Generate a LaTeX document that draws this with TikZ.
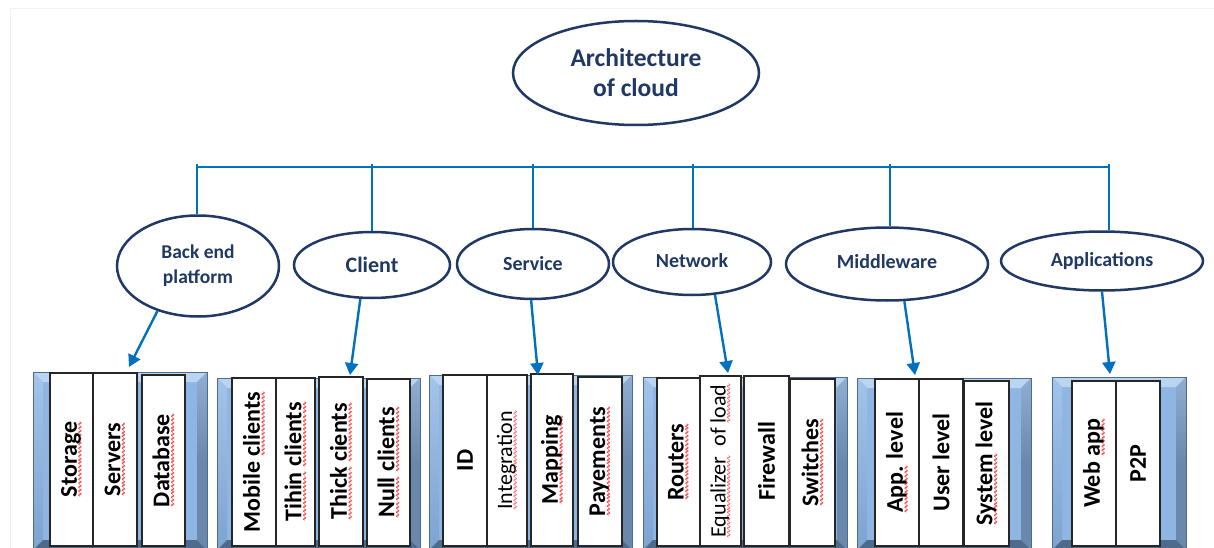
\documentclass[tikz,border=0pt]{standalone}
\usepackage{fontspec}
\setmainfont{Carlito}
\newfontfamily\wvfont{DejaVu Sans}
\usetikzlibrary{shapes.geometric,arrows.meta}
\definecolor{navy}{HTML}{1F3864}
\definecolor{lnblue}{HTML}{0070C0}
\definecolor{bvc}{HTML}{8FB5E3}
\definecolor{bvt}{HTML}{BAD5F2}
\definecolor{bvlt}{HTML}{A3C4EA}
\definecolor{bvlb}{HTML}{7DA3D0}
\definecolor{bvrt}{HTML}{8FAED2}
\definecolor{bvr}{HTML}{6A88AC}
\definecolor{bvb}{HTML}{4E6B8C}
\definecolor{bvo}{HTML}{4F6C8E}
\newcommand\wv[1]{\setbox0\hbox{#1}\rlap{\lower5.2pt\hbox to \wd0{\xleaders\hbox{\kern-0.6pt\textcolor{red}{\wvfont\fontsize{6}{6}\selectfont ∿}\kern-0.6pt}\hfill}}#1}
\newcommand\fsz[2]{\fontsize{#1}{#2}\selectfont}
\newcommand\bevframe[3]{%
  \fill[bvc] (#1,#2) rectangle (#3,550);
  \fill[bvt] (#1,#2) -- (#3,#2) -- (#3-10,#2+10) -- (#1+10,#2+10) -- cycle;
  \shade[top color=bvlt,bottom color=bvlb] (#1,#2) -- (#1+10,#2+10) -- (#1+10,540) -- (#1,550) -- cycle;
  \shade[top color=bvrt,bottom color=bvr,middle color=bvr] (#3,#2) -- (#3-10,#2+10) -- (#3-10,540) -- (#3,550) -- cycle;
  \fill[bvb] (#1,550) -- (#1+10,540) -- (#3-10,540) -- (#3,550) -- cycle;
  \draw[bvo,line width=1pt] (#1,550) -- (#1,#2) -- (#3,#2) -- (#3,550);
}
\newcommand\cell[5]{%
  \pgfmathsetmacro\cellX{(#2+#3)/2}%
  \pgfmathsetmacro\cellY{(#4+546)/2}%
  \pgfmathsetmacro\cellH{546-#4}%
  \pgfmathsetmacro\cellW{#3-#2}%
  \node[cellbox,minimum width=\cellH pt,minimum height=\cellW pt] (#1) at (\cellX,\cellY) {#5};
}
\begin{document}
\begin{tikzpicture}[x=1pt,y=-1pt,
  elli/.style={ellipse,draw=navy,line width=2.5pt,fill=white,inner sep=0pt,align=center,text=navy},
  subfont/.style={font=\bfseries\fsz{20}{25}},
  bus/.style={draw=lnblue,line width=2.4pt},
  arr/.style={draw=lnblue,line width=2.4pt,-{Triangle[length=12pt,width=13pt]}},
  cellbox/.style={draw=black!85,fill=white,line width=1.3pt,rotate=90,inner sep=0pt,font=\bfseries\fsz{24}{27}}]
\useasboundingbox (0,0) rectangle (1214,548);
\clip (0,0) rectangle (1214,548);
\fill[white] (0,0) rectangle (1214,548);
\draw[black!5,line width=1pt] (10,548) -- (10,9) -- (1214,9);

% title
\node[elli,minimum width=246pt,minimum height=104pt,font=\bfseries\fsz{25.5}{30}] (arch) at (636,73) {Architecture\\of cloud};

% categories
\node[elli,minimum width=162pt,minimum height=101pt,font=\bfseries\fsz{19.5}{25}] (be) at (198,266) {Back end\\platform};
\node[elli,minimum width=156pt,minimum height=66pt,font=\bfseries\fsz{22}{26}] (cl) at (372,265) {Client};
\node[elli,subfont,minimum width=152pt,minimum height=70pt] (sv) at (533,264) {Service};
\node[elli,subfont,minimum width=158pt,minimum height=66pt] (nw) at (692,262) {\raisebox{3pt}{Network}};
\node[elli,subfont,minimum width=202pt,minimum height=73pt] (mw) at (887,264) {\raisebox{5pt}{Middleware}};
\node[elli,subfont,minimum width=202pt,minimum height=59pt] (ap) at (1102,261) {Applications};

% bus
\coordinate (b1) at (197,167);
\coordinate (b2) at (372,167);
\coordinate (b3) at (533,167);
\coordinate (b4) at (693,167);
\coordinate (b5) at (890,167);
\coordinate (b6) at (1109,167);
\draw[bus] (b1) -- (b6);
\foreach \b/\e in {b1/be,b2/cl,b3/sv,b4/nw,b5/mw,b6/ap}
  \draw[bus] ([yshift=3pt]\b) -- (\b |- \e.north);

% frames
\bevframe{33}{372}{207}
\bevframe{217}{378}{420}
\bevframe{429}{375}{632}
\bevframe{643}{377}{847}
\bevframe{857}{378}{1031}
\bevframe{1052}{377}{1186}

% cells
\cell{c11}{50}{93}{373}{\wv{Storage}}
\cell{c12}{93}{137}{373}{\wv{Servers}}
\cell{c13}{142}{185}{375}{\wv{Database}}

\cell{c21}{232}{276}{378}{Mobile \wv{clients}}
\cell{c22}{276}{315}{378}{\wv{Tihin} \wv{clients}}
\cell{c23}{319}{363}{377}{\wv{Thick} \wv{cients}}
\cell{c24}{367}{410}{379}{\wv{Null} \wv{clients}}

\cell{c31}{443}{487}{375}{ID}
\cell{c32}{487}{527}{375}{\mdseries\fsz{22}{26}\wv{Integration}}
\cell{c33}{531}{573}{374}{\wv{Mapping}}
\cell{c34}{578}{622}{377}{\wv{Payements}}

\cell{c41}{657}{700}{378}{\wv{Routers}}
\cell{c42}{700}{741}{376}{\mdseries\fsz{22}{26}\wv{Equalizer}\ \ of \wv{load}}
\cell{c43}{744}{789}{376}{Firewall}
\cell{c44}{790}{835}{379}{\wv{Switches}}

\cell{c51}{875}{919}{379}{\wv{App.} level}
\cell{c52}{919}{963}{379}{User level}
\cell{c53}{964}{1009}{381}{\wv{System} level}

\cell{c61}{1072}{1116}{381}{Web \wv{app}}
\cell{c62}{1116}{1160}{381}{P2P}

% arrow tips
\coordinate (t1) at (129,367);
\coordinate (t2) at (350,375);
\coordinate (t3) at (538,375);
\coordinate (t4) at (728,373);
\coordinate (t5) at (915,375);
\coordinate (t6) at (1110,374);
\draw[arr] (be.228) -- (t1);
\draw[arr] (cl.251) -- (t2);
\draw[arr] (sv.267) -- (t3);
\draw[arr] (nw.305) -- (t4);
\draw[arr] (mw.295) -- (t5);
\draw[arr] (ap.270) -- (t6);
\end{tikzpicture}
\end{document}
